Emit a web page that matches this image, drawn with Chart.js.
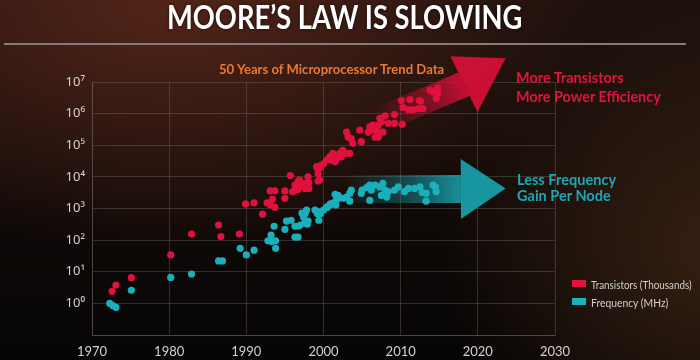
<!DOCTYPE html>
<html>
<head>
<meta charset="utf-8">
<script src="https://cdn.jsdelivr.net/npm/chart.js@4.4.1/dist/chart.umd.min.js"></script>
<style>
html,body{margin:0;padding:0;}
body{width:700px;height:360px;overflow:hidden;position:relative;
  background:
    radial-gradient(ellipse 430px 250px at 170px 0px, rgba(86,38,26,0.95), rgba(86,38,26,0) 100%),
    radial-gradient(ellipse 280px 260px at 720px 250px, rgba(62,36,20,0.85), rgba(62,36,20,0) 100%),
    linear-gradient(#1d100c, #060505);
  font-family: Lato, "Noto Sans", sans-serif;}
#c{position:absolute;left:0;top:0;}
.t{position:absolute;white-space:nowrap;transform-origin:0 50%;}
.box{position:absolute;width:14px;height:7px;}
</style>
</head>
<body>
<canvas id="c" width="700" height="360"></canvas>
<div class="t" id="title" style="font-weight:700;font-size:32px;color:#fff;text-shadow:0 0 4px rgba(0,0,0,0.6);">MOORE’S LAW IS SLOWING</div>
<div style="position:absolute;left:4px;top:43px;width:682px;height:2px;background:#867b78;"></div>
<div class="t" id="sub" style="font-weight:700;font-size:14px;color:#e97a33;">50 Years of Microprocessor Trend Data</div>
<div class="t" id="r1" style="font-weight:700;font-size:15px;color:#e0143f;">More Transistors</div>
<div class="t" id="r2" style="font-weight:700;font-size:15px;color:#e0143f;">More Power Efficiency</div>
<div class="t" id="g1" style="font-weight:700;font-size:15px;color:#1aa9b4;">Less Frequency</div>
<div class="t" id="g2" style="font-weight:700;font-size:15px;color:#1aa9b4;">Gain Per Node</div>
<div class="box" style="left:572px;top:280px;background:#e3123f;"></div>
<div class="box" style="left:572px;top:298px;background:#19b2bd;"></div>
<div class="t" id="l1" style="font-size:11px;color:#d0d0d0;">Transistors (Thousands)</div>
<div class="t" id="l2" style="font-size:11px;color:#d0d0d0;">Frequency (MHz)</div>
<script>
// ---- data ----
const transistorYears = [1972.6,1973.1,1975.1,1980.2,1982.9,1986.4,1986.7,1989.1,1989.9,1991.0,1992.1,1992.7,1993.1,1993.1,1993.4,1993.7,1993.7,1995.0,1995.0,1995.7,1996.0,1996.3,1996.4,1996.7,1996.7,1996.9,1997.0,1997.6,1997.6,1998.0,1998.1,1998.1,1999.1,1999.2,1999.3,1999.3,1999.5,1999.5,1999.7,2000.0,2000.4,2000.8,2001.0,2001.2,2001.5,2001.7,2002.1,2002.3,2002.5,2003.0,2003.4,2003.0,2003.2,2003.6,2003.8,2004.7,2004.9,2005.8,2006.0,2006.2,2006.4,2006.7,2006.9,2007.0,2007.1,2007.1,2007.3,2007.5,2007.7,2008.0,2008.4,2009.2,2009.2,2010.1,2010.2,2010.3,2011.0,2011.2,2011.6,2012.3,2012.4,2012.6,2012.9,2013.8,2014.2,2014.6,2014.8,2014.8];
const transistorValues = [2.4,3.8,6.5,34,155,300,130,155,1400,1500,660,1500,3600,1300,2000,3600,1100,3600,2100,11000,3400,5500,4600,7200,4000,7900,5500,6200,4300,10000,6500,4300,21000,19000,12600,7400,19000,7900,23000,26000,34000,43000,34000,55000,30000,38000,55000,43000,69000,55000,55000,260000,180000,160000,115000,300000,130000,260000,380000,300000,430000,180000,340000,260000,180000,430000,710000,550000,260000,850000,490000,930000,490000,2600000,460000,1550000,1350000,2800000,1350000,1450000,2600000,2450000,1450000,5500000,4900000,3000000,6500000,4300000];
const frequencyYears = [1972.3,1972.7,1973.1,1975.1,1980.2,1982.9,1986.4,1986.9,1989.2,1990.0,1991.0,1992.8,1993.2,1993.3,1993.6,1993.8,1993.8,1995.0,1995.2,1995.8,1996.3,1996.3,1996.7,1996.7,1997.0,1997.2,1997.4,1997.6,1997.6,1997.7,1997.8,1997.9,1998.0,1998.9,1999.2,1999.3,1999.4,1999.6,2000.0,2000.4,2000.5,2000.8,2000.9,2001.3,2001.5,2001.6,2001.7,2001.9,2002.0,2002.6,2003.0,2003.4,2003.4,2003.6,2004.9,2005.0,2005.6,2005.8,2006.0,2006.0,2006.2,2006.7,2007.3,2007.5,2007.7,2008.0,2008.2,2008.4,2009.2,2009.7,2010.5,2011.0,2011.8,2012.5,2012.8,2013.3,2013.3,2014.2,2014.5,2014.6];
const frequencyValues = [1.0,0.85,0.75,2.6,6.6,8.5,22,22,55,34,48,95,145,90,275,95,55,220,400,425,275,125,275,125,300,720,550,380,690,780,890,320,400,890,690,780,425,690,890,1100,1100,1300,1400,1500,2800,1300,1900,2600,2100,2100,2300,3000,1700,3800,3000,3800,4600,4800,5500,1800,3800,5500,4800,2600,6200,3800,2300,3400,3800,4800,3400,4300,4300,4800,3200,3000,1700,5500,4800,3400];
const xTickYears = [1970,1980,1990,2000,2010,2020,2030];
const yTickValues = [0.1,1,10,100,1000,10000,100000,1000000,10000000];
const yTickLabels = ['', '10⁰','10¹','10²','10³','10⁴','10⁵','10⁶','10⁷'];
const seriesNames = ['Transistors (Thousands)','Frequency (MHz)'];

// ---- text placement (left x, centre y, target width) ----
function place(id, left, cy, width){
  const el = document.getElementById(id);
  el.style.left = left + 'px';
  const h = el.offsetHeight;
  el.style.top = (cy - h/2) + 'px';
  const w = el.offsetWidth;
  if (w > 0) el.style.transform = 'scaleX(' + (width / w) + ')';
}
place('title', 167, 16, 355);
place('sub', 219, 68, 225);
place('r1', 516, 77, 108);
place('r2', 516, 96, 145);
place('g1', 517, 179, 99);
place('g2', 517, 195, 94);
place('l1', 591, 284, 101);
place('l2', 591, 302, 77);

const RED = '#e0113d', TEAL = '#19b0bb';

// arrows defined in data space
const arrowSpecs = [
  {start:[2006.5, 540000], base:[2018.2, 8500000], tip:[2023.6, 56000000], shaft:13, head:31, rgb:[212,16,56]},
  {start:[2002.6, 4100], base:[2017.8, 4100], tip:[2023.6, 4300], shaft:14, head:30, rgb:[24,158,168]}
];

const arrowPlugin = {
  id: 'arrows',
  beforeDatasetsDraw(chart){
    const ctx = chart.ctx, xs = chart.scales.x, ys = chart.scales.y;
    ctx.save();
    arrowSpecs.forEach(a => {
      const P = p => ({x: xs.getPixelForValue(p[0]), y: ys.getPixelForValue(p[1])});
      const s = P(a.start), b = P(a.base), t = P(a.tip);
      let ux = t.x - s.x, uy = t.y - s.y;
      const L = Math.hypot(ux, uy); ux /= L; uy /= L;
      const nx = -uy, ny = ux;
      const [r,g,bl] = a.rgb;
      const grad = ctx.createLinearGradient(s.x, s.y, b.x, b.y);
      grad.addColorStop(0, `rgba(${r},${g},${bl},0)`);
      grad.addColorStop(0.55, `rgba(${r},${g},${bl},0.42)`);
      grad.addColorStop(1, `rgba(${r},${g},${bl},0.9)`);
      ctx.beginPath();
      ctx.moveTo(s.x + nx*a.shaft, s.y + ny*a.shaft);
      ctx.lineTo(b.x + nx*a.shaft, b.y + ny*a.shaft);
      ctx.lineTo(b.x - nx*a.shaft, b.y - ny*a.shaft);
      ctx.lineTo(s.x - nx*a.shaft, s.y - ny*a.shaft);
      ctx.closePath();
      ctx.fillStyle = grad;
      ctx.fill();
      ctx.beginPath();
      ctx.moveTo(b.x + nx*a.head, b.y + ny*a.head);
      ctx.lineTo(t.x, t.y);
      ctx.lineTo(b.x - nx*a.head, b.y - ny*a.head);
      ctx.closePath();
      ctx.fillStyle = `rgba(${r},${g},${bl},0.95)`;
      ctx.fill();
    });
    ctx.restore();
  }
};

const gridColor = 'rgba(115,110,108,0.38)';
const toPoints = (xsArr, ysArr) => xsArr.map((x, i) => ({x: x, y: ysArr[i]}));

new Chart(document.getElementById('c'), {
  type: 'scatter',
  data: {
    datasets: [
      {label: seriesNames[0], data: toPoints(transistorYears, transistorValues),
       pointBackgroundColor: RED, backgroundColor: RED, pointBorderWidth: 0, pointRadius: 3.6, pointHoverRadius: 3.6},
      {label: seriesNames[1], data: toPoints(frequencyYears, frequencyValues),
       pointBackgroundColor: TEAL, backgroundColor: TEAL, pointBorderWidth: 0, pointRadius: 3.6, pointHoverRadius: 3.6}
    ]
  },
  options: {
    responsive: false,
    animation: false,
    events: [],
    layout: {padding: {left: 0, right: 145, top: 82, bottom: 0}},
    plugins: {legend: {display: false}, tooltip: {enabled: false}},
    scales: {
      x: {
        type: 'linear', min: 1970, max: 2030,
        afterBuildTicks: sc => { sc.ticks = xTickYears.map(v => ({value: v})); },
        afterFit: sc => { sc.height = 25; },
        grid: {color: gridColor, drawTicks: false},
        border: {color: gridColor},
        ticks: {color: '#d2d2d2', font: {family: 'Lato, "Noto Sans", sans-serif', size: 13}, padding: 9,
                callback: v => String(v), maxRotation: 0}
      },
      y: {
        type: 'logarithmic', min: 0.1, max: 10000000,
        afterBuildTicks: sc => { sc.ticks = yTickValues.map(v => ({value: v})); },
        afterFit: sc => { sc.width = 92; },
        grid: {color: gridColor, drawTicks: false},
        border: {color: gridColor},
        ticks: {color: '#d2d2d2', font: {family: '"Noto Sans", Lato, sans-serif', size: 13}, padding: 7,
                callback: (v, i) => yTickLabels[i]}
      }
    }
  },
  plugins: [arrowPlugin]
});
</script>
</body>
</html>
